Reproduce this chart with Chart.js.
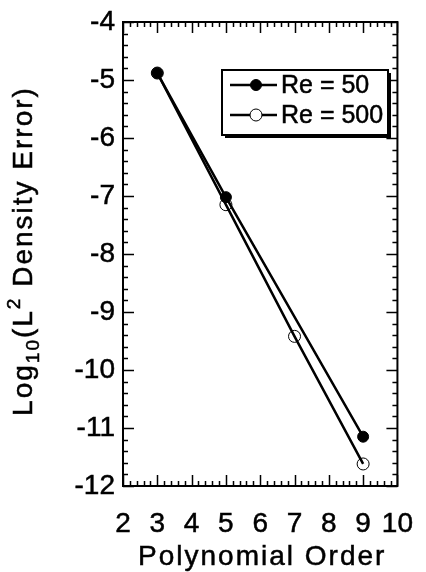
<!DOCTYPE html>
<html>
<head>
<meta charset="utf-8">
<script src="https://cdn.jsdelivr.net/npm/chart.js@4"></script>
<style>
  body { margin: 0; background: #fff; }
  #wrap { width: 426px; height: 572px; position: relative; }
</style>
</head>
<body>
<div id="wrap"><canvas id="myChart"></canvas></div>
<script>
// data
var orderRe50 = [3, 5, 9];
var errRe50 = [-4.88, -7.02, -11.15];
var orderRe500 = [3, 5, 7, 9];
var errRe500 = [-4.88, -7.15, -9.42, -11.62];
var seriesLabels = ['Re = 50', 'Re = 500'];
var xTicks = [2, 3, 4, 5, 6, 7, 8, 9, 10];
var yTicks = [-12, -11, -10, -9, -8, -7, -6, -5, -4];

var FONT = "'Liberation Sans', Arial, Helvetica, sans-serif";
Chart.defaults.font.family = FONT;
Chart.defaults.color = '#000';

function toPoints(xs, ys) {
    return xs.map(function(v, i){ return {x: v, y: ys[i]}; });
}

// text with a thin outline so it looks as heavy as the scan
function boldText(ctx, t, x, y) {
    ctx.fillText(t, x, y);
    ctx.strokeText(t, x, y);
}

// frame, inward ticks, legend box and axis titles
var decorations = {
    id: 'decorations',
    afterDraw: function(chart) {
        var ctx = chart.ctx;
        var a = chart.chartArea;
        var x = chart.scales.x, y = chart.scales.y;
        ctx.save();
        ctx.strokeStyle = '#000';
        ctx.lineWidth = 2;
        ctx.strokeRect(a.left, a.top, a.right - a.left, a.bottom - a.top);

        ctx.lineWidth = 1.5;
        ctx.beginPath();
        var nx = (xTicks[xTicks.length-1] - xTicks[0]) * 5;
        for (var i = 0; i <= nx; i++) {
            var px = Math.round(x.getPixelForValue(xTicks[0] + i * 0.2)) + 0.5;
            var len = (i % 5 == 0) ? 11 : 5;
            ctx.moveTo(px, a.bottom); ctx.lineTo(px, a.bottom - len);
            ctx.moveTo(px, a.top); ctx.lineTo(px, a.top + len);
        }
        var ny = (yTicks[yTicks.length-1] - yTicks[0]) * 5;
        for (var j = 0; j <= ny; j++) {
            var py = Math.round(y.getPixelForValue(yTicks[0] + j * 0.2)) + 0.5;
            var len2 = (j % 5 == 0) ? 11 : 5;
            ctx.moveTo(a.left, py); ctx.lineTo(a.left + len2, py);
            ctx.moveTo(a.right, py); ctx.lineTo(a.right - len2, py);
        }
        ctx.stroke();

        // legend
        var lx = 222, ly = 70, lw = 166, lh = 65;
        ctx.fillStyle = '#000';
        ctx.fillRect(lx + 3, ly + 3, lw, lh);
        ctx.fillStyle = '#fff';
        ctx.fillRect(lx, ly, lw, lh);
        ctx.lineWidth = 2;
        ctx.strokeRect(lx, ly, lw, lh);
        var rows = [85, 115];
        chart.data.datasets.forEach(function(ds, k) {
            var ry = rows[k];
            ctx.lineWidth = 2.5;
            ctx.strokeStyle = '#000';
            ctx.beginPath();
            ctx.moveTo(230, ry); ctx.lineTo(277, ry);
            ctx.stroke();
            ctx.beginPath();
            ctx.arc(256, ry, ds.pointRadius, 0, Math.PI * 2);
            ctx.fillStyle = k == 0 ? '#000' : '#fff';
            ctx.fill();
            ctx.lineWidth = 1;
            ctx.stroke();
            ctx.fillStyle = '#000';
            ctx.font = '25px ' + FONT;
            ctx.textBaseline = 'middle';
            ctx.textAlign = 'left';
            ctx.lineWidth = 0.5;
            boldText(ctx, ds.label, 281, ry + 1);
        });

        // x title
        ctx.fillStyle = '#000';
        ctx.lineWidth = 0.5;
        ctx.font = '28px ' + FONT;
        ctx.letterSpacing = '2px';
        ctx.textAlign = 'center';
        ctx.textBaseline = 'alphabetic';
        boldText(ctx, 'Polynomial Order', (a.left + a.right) / 2 + 2, 565);

        // y title with sub- and superscript
        var parts = [
            {t: 'Log', s: 28, dy: 0},
            {t: '10', s: 19, dy: 7},
            {t: '(L', s: 28, dy: 0},
            {t: '2', s: 19, dy: -12},
            {t: ' Density Error)', s: 28, dy: 0}
        ];
        var total = 0;
        parts.forEach(function(p){
            ctx.font = p.s + 'px ' + FONT;
            p.w = ctx.measureText(p.t).width;
            total += p.w;
        });
        ctx.translate(32, (a.top + a.bottom) / 2 - 3);
        ctx.rotate(-Math.PI / 2);
        ctx.textAlign = 'left';
        var cx = -total / 2;
        parts.forEach(function(p){
            ctx.font = p.s + 'px ' + FONT;
            boldText(ctx, p.t, cx, p.dy);
            cx += p.w;
        });
        ctx.restore();
    }
};

var ctx = document.getElementById("myChart").getContext('2d');
var myChart = new Chart(ctx, {
    type: 'scatter',
    data: {
        datasets: [{
            label: seriesLabels[0],
            data: toPoints(orderRe50, errRe50),
            showLine: true,
            borderColor: '#000',
            borderWidth: 2.5,
            pointRadius: 5.5,
            pointBackgroundColor: '#000',
            pointBorderColor: '#000',
            pointBorderWidth: 1
        }, {
            label: seriesLabels[1],
            data: toPoints(orderRe500, errRe500),
            showLine: true,
            borderColor: '#000',
            borderWidth: 2.5,
            pointRadius: 6,
            pointBackgroundColor: 'rgba(0,0,0,0)',
            pointBorderColor: '#000',
            pointBorderWidth: 1
        }]
    },
    options: {
        responsive: true,
        maintainAspectRatio: false,
        animation: false,
        layout: { padding: { left: 0, top: 22, right: 0, bottom: 0 } },
        plugins: {
            legend: { display: false },
            tooltip: { enabled: false }
        },
        scales: {
            x: {
                type: 'linear',
                min: xTicks[0],
                max: xTicks[xTicks.length - 1],
                afterBuildTicks: function(s){ s.ticks = xTicks.map(function(v){ return {value: v}; }); },
                afterFit: function(s){ s.height = 86; },
                grid: { display: false },
                border: { display: false },
                ticks: { font: { size: 28 }, padding: 13, maxRotation: 0, autoSkip: false,
                         textStrokeColor: '#000', textStrokeWidth: 0.5 }
            },
            y: {
                type: 'linear',
                min: yTicks[0],
                max: yTicks[yTicks.length - 1],
                afterBuildTicks: function(s){ s.ticks = yTicks.map(function(v){ return {value: v}; }); },
                afterFit: function(s){ s.width = 123; },
                grid: { display: false },
                border: { display: false },
                ticks: { font: { size: 28 }, padding: 0,
                         textStrokeColor: '#000', textStrokeWidth: 0.5 }
            }
        }
    },
    plugins: [decorations]
});
</script>
</body>
</html>
